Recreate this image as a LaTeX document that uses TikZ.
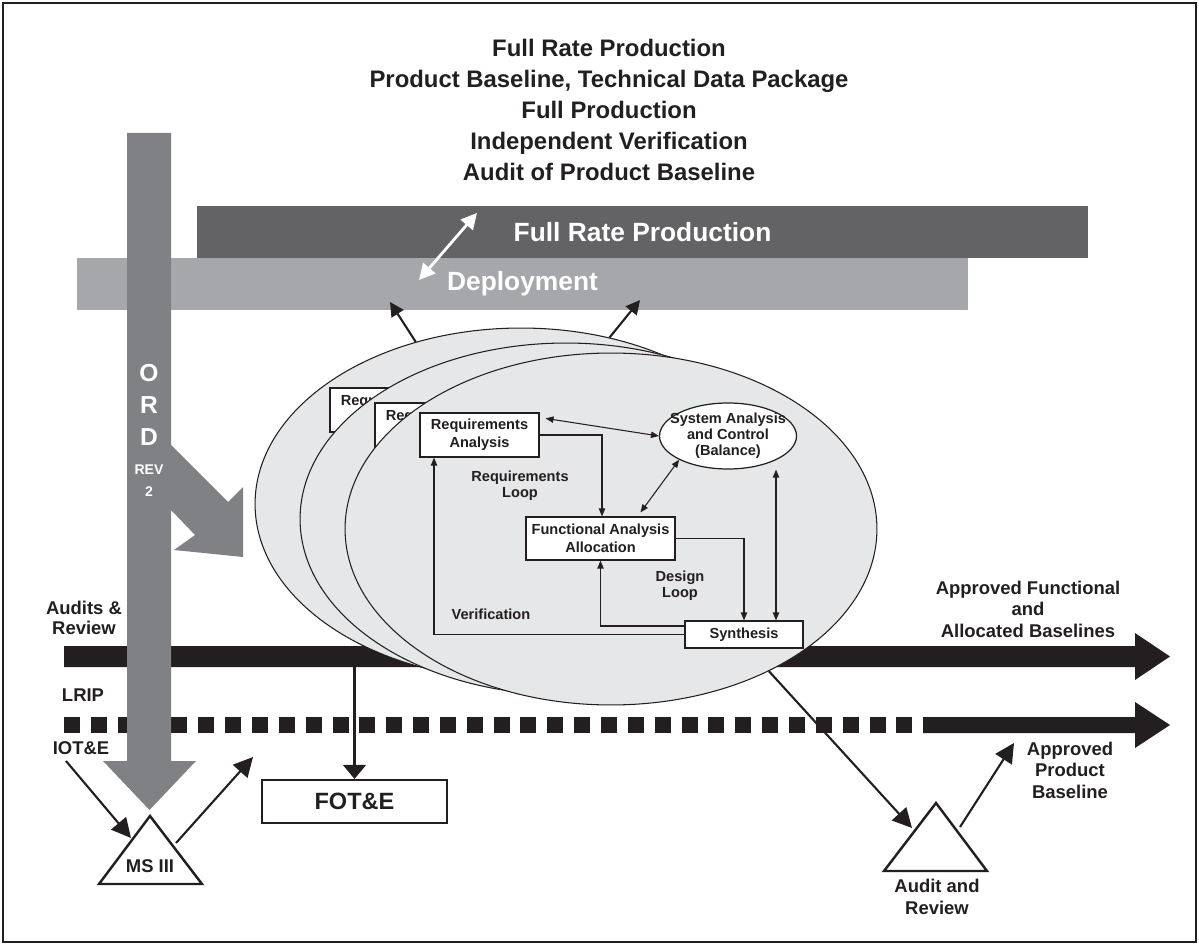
\documentclass[tikz,border=0pt]{standalone}
\usepackage{fontspec}
\setmainfont{Liberation Sans}
\usetikzlibrary{shapes.geometric,arrows.meta,calc}
\definecolor{frp}{RGB}{99,99,101}
\definecolor{dep}{RGB}{166,167,170}
\definecolor{ordc}{RGB}{128,129,132}
\definecolor{ellfill}{RGB}{230,231,232}
\definecolor{ink}{RGB}{35,31,32}
\begin{document}
\begin{tikzpicture}[x=0.02cm,y=-0.02cm,
  box/.style={draw=ink, fill=white, line width=0.7pt, inner sep=0pt, align=center, text=ink, font=\fontsize{8.3}{10}\selectfont\bfseries},
  bigell/.style={ellipse, draw=ink, fill=ellfill, line width=0.6pt, minimum width=10.64cm, minimum height=7.04cm, inner sep=0pt},
  inlbl/.style={align=center, text=ink, font=\fontsize{8.3}{9}\selectfont\bfseries, inner sep=0pt},
  lbl/.style={align=center, text=ink, font=\fontsize{10.5}{12.2}\selectfont\bfseries, inner sep=0pt},
  barlbl/.style={text=white, font=\fontsize{15}{18}\selectfont\bfseries},
  arr/.style={draw=ink, line width=0.6pt, -{Triangle[length=4.5pt,width=3.6pt]}},
  dbl/.style={draw=ink, line width=0.6pt, {Triangle[length=4.5pt,width=3.6pt]}-{Triangle[length=4.5pt,width=3.6pt]}},
  bigarr/.style={draw=ink, line width=1.2pt, -{Triangle[length=11pt,width=11pt]}},
  deparr/.style={draw=ink, line width=1.2pt, -{Triangle[length=8pt,width=8pt]}},
  tri/.style={draw=ink, fill=white, line width=1.4pt, line join=miter},
]
\useasboundingbox (0,0) rectangle (1199,945);
% frame
\draw[ink, line width=1.1pt] (3,3) rectangle (1196,942);
% title
\node[align=center, text=ink, font=\fontsize{13.6}{17.6}\selectfont\bfseries] (title) at (609,110)
  {Full Rate Production\\Product Baseline, Technical Data Package\\Full Production\\Independent Verification\\Audit of Product Baseline};
% phase bars
\node[fill=frp, minimum width=17.82cm, minimum height=1.04cm, inner sep=0pt, barlbl] (frpbar) at (642.5,232) {Full Rate Production};
\node[fill=dep, minimum width=17.82cm, minimum height=1.04cm, inner sep=0pt, barlbl] (depbar) at (522.5,284) {Deployment};
% black solid bar with arrow
\fill[ink] (64,646) -- (1135,646) -- (1135,633) -- (1170,656.5) -- (1135,680) -- (1135,667) -- (64,667) -- cycle;
% dotted bar with arrow
\foreach \i in {0,...,31} \fill[ink] ({64+26.85*\i},717) rectangle ++(16,16);
\fill[ink] (923,717) -- (1135,717) -- (1135,702) -- (1170,725) -- (1135,748) -- (1135,733) -- (923,733) -- cycle;
% stacked ellipses (back copies only show the start of their boxes)
\node[bigell] (ellB) at (521,504) {};
\node[box, minimum width=2.38cm, minimum height=0.88cm,
  label={[inlbl,anchor=west,xshift=0.22cm,yshift=0.16cm]west:Requ}] (reqB) at (389.5,410) {};
\node[bigell] (ellM) at (566,519) {};
\node[box, minimum width=2.38cm, minimum height=0.88cm,
  label={[inlbl,anchor=west,xshift=0.22cm,yshift=0.16cm]west:Req}] (reqM) at (434.5,425) {};
\node[bigell] (ellF) at (611,529) {};
% front content
\node[box, minimum width=2.38cm, minimum height=0.88cm] (reqF) at (479.5,435) {Requirements\\Analysis};
\node[ellipse, draw=ink, fill=white, line width=0.7pt, minimum width=2.74cm, minimum height=1.32cm, inner sep=0pt,
  label={[inlbl]center:System Analysis\\and Control\\(Balance)}] (sys) at (728,436) {};
\node[box, minimum width=2.98cm, minimum height=0.86cm] (fun) at (600.5,538.5) {Functional Analysis\\Allocation};
\node[box, minimum width=2.36cm, minimum height=0.54cm] (syn) at (744,634.5) {Synthesis};
\node[inlbl] (rloop) at (520,486) {Requirements\\Loop};
\node[inlbl] (dloop) at (680,586) {Design\\Loop};
\node[inlbl] (verif) at (491,614) {Verification};
\draw[dbl] ($(reqF.north east)+(6,6)$) -- (sys.west);
\draw[arr] (reqF.east) -| ([xshift=0.03cm]fun.north);
\draw[dbl] ($(fun.north)+(40,-4)$) -- (sys.south west);
\draw[arr] (fun.east) -| (syn.north);
\draw[dbl] ([xshift=0.64cm]syn.north) -- ([xshift=0.64cm]syn.north |- sys.south);
\draw[arr] ([yshift=0.17cm]syn.west) -| (fun.south);
\draw[arr] (syn.west) -| ([xshift=-0.91cm]reqF.south);
% ORD arrow
\fill[ordc] (127,133) -- (127,761) -- (103,761) -- (149.5,810) -- (196,761) -- (171,761) -- (171,510)
  -- (195,535) -- (174,550) -- (243,557) -- (243,487) -- (228,502) -- (171,445) -- (171,133) -- cycle;
\node[text=white, align=center, font=\fontsize{14}{18}\selectfont\bfseries, inner sep=0pt] (ordt) at (149,405) {O\\R\\D};
\node[text=white, align=center, font=\fontsize{8}{12.5}\selectfont\bfseries, inner sep=0pt] (rev) at (149,481) {REV\\2};
% deployment arrows
\coordinate (d1) at (390,302);
\coordinate (d2) at (640,300);
\draw[deparr] (ellB.123.9) -- (d1);
\draw[deparr] (ellB.62.6) -- (d2);
\coordinate (w1) at (419,280);
\coordinate (w2) at (477,213);
\draw[white, line width=1.6pt, {Triangle[length=9pt,width=9pt]}-{Triangle[length=9pt,width=9pt]}] (w1) -- (w2);
% left labels
\node[lbl, font=\fontsize{10.5}{11.5}\selectfont\bfseries] (audits) at (84,618) {Audits \&\\Review};
\node[lbl] (lrip) at (83,695) {LRIP};
\node[lbl] (iote) at (81,748) {IOT\&E};
% MS III
\coordinate (msA) at (150,816);
\coordinate (msL) at (99,884);
\coordinate (msR) at (202,884);
\draw[tri] (msA) -- (msL) -- (msR) -- cycle;
\node[lbl] (ms) at (150,866) {MS III};
\coordinate (i0) at (66,761);
\coordinate (i1) at (131,838);
\draw[bigarr] (i0) -- (i1);
\coordinate (m0) at (176,843);
\coordinate (m1) at (253,757);
\draw[bigarr] (m0) -- (m1);
% FOT&E
\node[draw=ink, line width=1.2pt, minimum width=3.7cm, minimum height=0.86cm, inner sep=0pt, text=ink, font=\fontsize{13.4}{16}\selectfont\bfseries] (fot) at (354.5,801.5) {FOT\&E};
\coordinate (f0) at (354.5,667);
\draw[draw=ink, line width=1.2pt, -{Triangle[length=8pt,width=13pt]}] (f0) -- (fot.north);
% audit and review
\coordinate (aA) at (936,803);
\coordinate (aL) at (884,871);
\coordinate (aR) at (987,871);
\draw[tri] (aA) -- (aL) -- (aR) -- cycle;
\node[lbl] (audit) at (937,897) {Audit and\\Review};
\coordinate (a1) at (912,828);
\draw[bigarr] (ellF.-42.2) -- (a1);
\coordinate (b0) at (960,827);
\coordinate (b1) at (1014,743);
\draw[bigarr] (b0) -- (b1);
% right labels
\node[lbl] (apf) at (1028,609) {Approved Functional\\and\\Allocated Baselines};
\node[lbl] (app) at (1070,770) {Approved\\Product\\Baseline};
\end{tikzpicture}
\end{document}
